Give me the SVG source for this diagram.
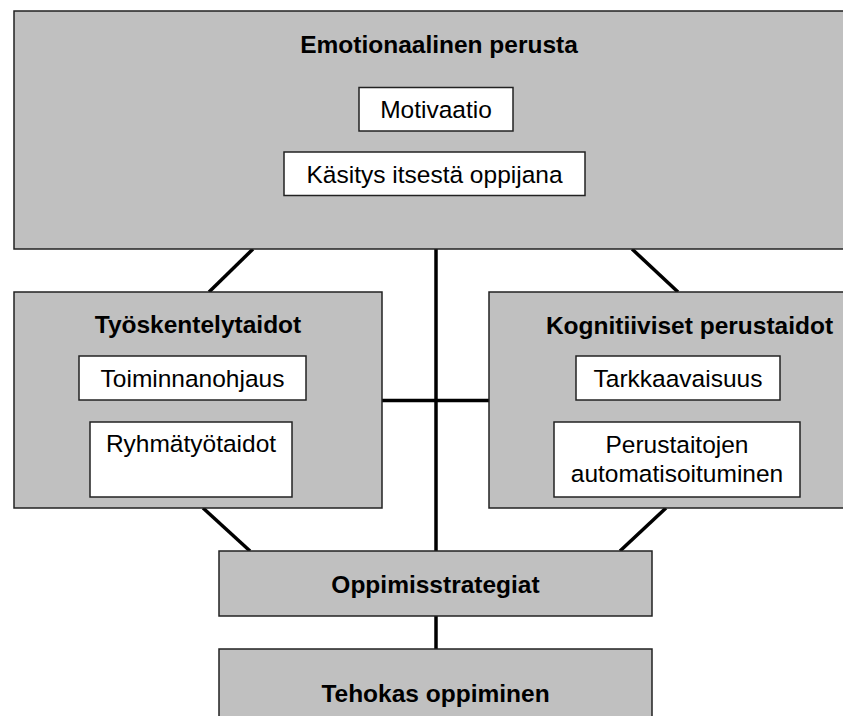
<svg xmlns="http://www.w3.org/2000/svg" width="843" height="716" viewBox="0 0 843 716">
  <style>
    .panel { fill: #c0c0c0; stroke: #222; stroke-width: 1.5; }
    .item { fill: #ffffff; stroke: #222; stroke-width: 1.5; }
    .title { font-family: "Liberation Sans", Arial, sans-serif; font-weight: bold; font-size: 24.5px; fill: #000; text-anchor: middle; }
    .label { font-family: "Liberation Sans", Arial, sans-serif; font-size: 24.5px; fill: #000; text-anchor: middle; }
    .link { stroke: #000; stroke-width: 3.5; fill: none; }
  </style>
  <rect width="843" height="716" fill="#ffffff"/>

  <!-- connectors -->
  <g id="connectors">
    <line class="link" x1="436" y1="249" x2="436" y2="551"/>
    <line class="link" x1="436" y1="616" x2="436" y2="649"/>
    <line class="link" x1="382" y1="400.5" x2="489" y2="400.5"/>
    <line class="link" x1="253" y1="249" x2="209" y2="292"/>
    <line class="link" x1="632" y1="249" x2="678" y2="292"/>
    <line class="link" x1="203" y1="508" x2="250" y2="551"/>
    <line class="link" x1="666" y1="508" x2="620" y2="551"/>
  </g>

  <!-- emotional foundation -->
  <g id="emotionaalinen-perusta">
    <rect class="panel" x="14" y="11" width="850" height="238"/>
    <text class="title" x="439" y="53">Emotionaalinen perusta</text>
    <g id="motivaatio">
      <rect class="item" x="359" y="87.5" width="154" height="43.5"/>
      <text class="label" x="436" y="118">Motivaatio</text>
    </g>
    <g id="kasitys-itsesta">
      <rect class="item" x="284" y="152" width="301" height="43.5"/>
      <text class="label" x="434.5" y="183">Käsitys itsestä oppijana</text>
    </g>
  </g>

  <!-- working skills -->
  <g id="tyoskentelytaidot">
    <rect class="panel" x="14" y="292" width="368" height="216"/>
    <text class="title" x="198" y="333">Työskentelytaidot</text>
    <g id="toiminnanohjaus">
      <rect class="item" x="79" y="356" width="227" height="44"/>
      <text class="label" x="192.5" y="387">Toiminnanohjaus</text>
    </g>
    <g id="ryhmatyotaidot">
      <rect class="item" x="90" y="422" width="202" height="75"/>
      <text class="label" x="191" y="452">Ryhmätyötaidot</text>
    </g>
  </g>

  <!-- basic cognitive skills -->
  <g id="kognitiiviset-perustaidot">
    <rect class="panel" x="489" y="292" width="370" height="216"/>
    <text class="title" x="689.5" y="334">Kognitiiviset perustaidot</text>
    <g id="tarkkaavaisuus">
      <rect class="item" x="576" y="356" width="204" height="44"/>
      <text class="label" x="678" y="387">Tarkkaavaisuus</text>
    </g>
    <g id="perustaitojen-automatisoituminen">
      <rect class="item" x="554" y="422" width="246" height="75"/>
      <text class="label" x="677" y="453">Perustaitojen</text>
      <text class="label" x="677" y="482">automatisoituminen</text>
    </g>
  </g>

  <!-- learning strategies -->
  <g id="oppimisstrategiat">
    <rect class="panel" x="219" y="551" width="433" height="65"/>
    <text class="title" x="435.5" y="593">Oppimisstrategiat</text>
  </g>

  <!-- effective learning -->
  <g id="tehokas-oppiminen">
    <rect class="panel" x="219" y="649" width="433" height="80"/>
    <text class="title" x="435.5" y="702">Tehokas oppiminen</text>
  </g>
</svg>
